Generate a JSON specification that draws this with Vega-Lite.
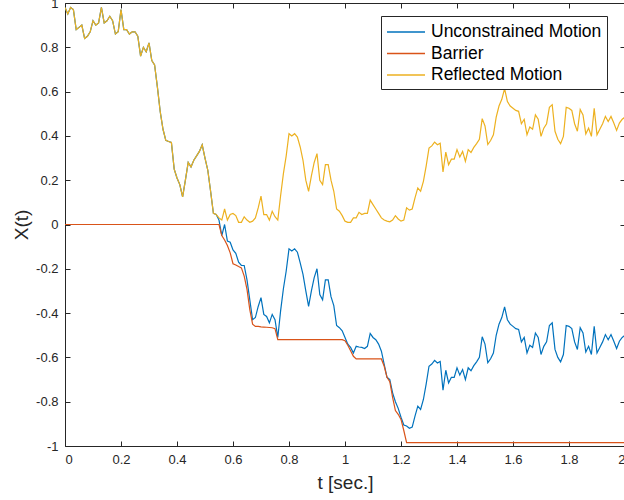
{
"$schema":"https://vega.github.io/schema/vega-lite/v6.json",
"width":560,"height":443,
"autosize":{"type":"none"},
"padding":{"left":65,"top":3,"right":0,"bottom":54},
"background":"white",
"data":{"values":[
{"t":0,"U":0.98,"B":0,"R":0.98},{"t":0.01,"U":0.95,"B":0,"R":0.95},{"t":0.02,"U":0.98,"B":0,"R":0.98},{"t":0.03,"U":0.97,"B":0,"R":0.97},{"t":0.04,"U":0.88,"B":0,"R":0.88},{"t":0.05,"U":0.89,"B":0,"R":0.89},{"t":0.06,"U":0.9,"B":0,"R":0.9},{"t":0.07,"U":0.84,"B":0,"R":0.84},{"t":0.08,"U":0.85,"B":0,"R":0.85},{"t":0.09,"U":0.87,"B":0,"R":0.87},
{"t":0.1,"U":0.92,"B":0,"R":0.92},{"t":0.11,"U":0.9,"B":0,"R":0.9},{"t":0.12,"U":0.91,"B":0,"R":0.91},{"t":0.13,"U":0.98,"B":0,"R":0.98},{"t":0.14,"U":0.91,"B":0,"R":0.91},{"t":0.15,"U":0.92,"B":0,"R":0.92},{"t":0.16,"U":0.94,"B":0,"R":0.94},{"t":0.17,"U":0.92,"B":0,"R":0.92},{"t":0.18,"U":0.86,"B":0,"R":0.86},{"t":0.19,"U":0.87,"B":0,"R":0.87},
{"t":0.2,"U":0.97,"B":0,"R":0.97},{"t":0.21,"U":0.88,"B":0,"R":0.88},{"t":0.22,"U":0.88,"B":0,"R":0.88},{"t":0.23,"U":0.86,"B":0,"R":0.86},{"t":0.24,"U":0.87,"B":0,"R":0.87},{"t":0.25,"U":0.87,"B":0,"R":0.87},{"t":0.26,"U":0.85,"B":0,"R":0.85},{"t":0.27,"U":0.76,"B":0,"R":0.76},{"t":0.28,"U":0.8,"B":0,"R":0.8},{"t":0.29,"U":0.78,"B":0,"R":0.78},
{"t":0.3,"U":0.82,"B":0,"R":0.82},{"t":0.31,"U":0.74,"B":0,"R":0.74},{"t":0.32,"U":0.72,"B":0,"R":0.72},{"t":0.33,"U":0.62,"B":0,"R":0.62},{"t":0.34,"U":0.51,"B":0,"R":0.51},{"t":0.35,"U":0.43,"B":0,"R":0.43},{"t":0.36,"U":0.38,"B":0,"R":0.38},{"t":0.37,"U":0.375,"B":0,"R":0.375},{"t":0.38,"U":0.37,"B":0,"R":0.37},{"t":0.39,"U":0.25,"B":0,"R":0.25},
{"t":0.4,"U":0.21,"B":0,"R":0.21},{"t":0.41,"U":0.18,"B":0,"R":0.18},{"t":0.42,"U":0.125,"B":0,"R":0.125},{"t":0.43,"U":0.2,"B":0,"R":0.2},{"t":0.44,"U":0.28,"B":0,"R":0.28},{"t":0.45,"U":0.26,"B":0,"R":0.26},{"t":0.46,"U":0.29,"B":0,"R":0.29},{"t":0.47,"U":0.31,"B":0,"R":0.31},{"t":0.48,"U":0.33,"B":0,"R":0.33},{"t":0.49,"U":0.36,"B":0,"R":0.36},
{"t":0.5,"U":0.3,"B":0,"R":0.3},{"t":0.51,"U":0.245,"B":0,"R":0.245},{"t":0.52,"U":0.15,"B":0,"R":0.15},{"t":0.53,"U":0.05,"B":0,"R":0.05},{"t":0.54,"U":0.045,"B":0,"R":0.045},{"t":0.55,"U":0.02,"B":0,"R":0.03},{"t":0.56,"U":-0.05,"B":-0.05,"R":0.02},{"t":0.57,"U":0,"B":-0.07,"R":0.07},{"t":0.58,"U":-0.075,"B":-0.095,"R":0.02},{"t":0.59,"U":-0.08,"B":-0.128,"R":0.045},
{"t":0.6,"U":-0.115,"B":-0.177,"R":0.05},{"t":0.61,"U":-0.13,"B":-0.183,"R":0.04},{"t":0.62,"U":-0.17,"B":-0.19,"R":0.01},{"t":0.63,"U":-0.185,"B":-0.196,"R":0.01},{"t":0.64,"U":-0.185,"B":-0.233,"R":0.035},{"t":0.65,"U":-0.25,"B":-0.293,"R":0.02},{"t":0.66,"U":-0.34,"B":-0.384,"R":0.01},{"t":0.67,"U":-0.43,"B":-0.45,"R":0.015},{"t":0.68,"U":-0.42,"B":-0.46,"R":0.03},{"t":0.69,"U":-0.37,"B":-0.46,"R":0.075},
{"t":0.7,"U":-0.33,"B":-0.462,"R":0.128},{"t":0.71,"U":-0.406,"B":-0.463,"R":0.045},{"t":0.72,"U":-0.415,"B":-0.464,"R":0.045},{"t":0.73,"U":-0.444,"B":-0.465,"R":0.02},{"t":0.74,"U":-0.406,"B":-0.466,"R":0.06},{"t":0.75,"U":-0.43,"B":-0.47,"R":0.035},{"t":0.76,"U":-0.51,"B":-0.52,"R":0.02},{"t":0.77,"U":-0.39,"B":-0.52,"R":0.13},{"t":0.78,"U":-0.29,"B":-0.52,"R":0.23},{"t":0.79,"U":-0.21,"B":-0.52,"R":0.31},
{"t":0.8,"U":-0.11,"B":-0.52,"R":0.41},{"t":0.81,"U":-0.12,"B":-0.52,"R":0.4},{"t":0.82,"U":-0.11,"B":-0.52,"R":0.41},{"t":0.83,"U":-0.125,"B":-0.52,"R":0.395},{"t":0.84,"U":-0.173,"B":-0.52,"R":0.35},{"t":0.85,"U":-0.225,"B":-0.52,"R":0.29},{"t":0.86,"U":-0.3,"B":-0.52,"R":0.2},{"t":0.87,"U":-0.37,"B":-0.52,"R":0.15},{"t":0.88,"U":-0.3,"B":-0.52,"R":0.22},{"t":0.89,"U":-0.24,"B":-0.52,"R":0.28},
{"t":0.9,"U":-0.2,"B":-0.52,"R":0.32},{"t":0.91,"U":-0.316,"B":-0.52,"R":0.2},{"t":0.92,"U":-0.34,"B":-0.52,"R":0.18},{"t":0.93,"U":-0.25,"B":-0.52,"R":0.27},{"t":0.94,"U":-0.25,"B":-0.52,"R":0.27},{"t":0.95,"U":-0.326,"B":-0.52,"R":0.2},{"t":0.96,"U":-0.366,"B":-0.52,"R":0.15},{"t":0.97,"U":-0.456,"B":-0.52,"R":0.07},{"t":0.98,"U":-0.466,"B":-0.52,"R":0.06},{"t":0.99,"U":-0.48,"B":-0.52,"R":0.04},
{"t":1,"U":-0.51,"B":-0.525,"R":0.015},{"t":1.01,"U":-0.54,"B":-0.545,"R":0.01},{"t":1.02,"U":-0.555,"B":-0.57,"R":0.01},{"t":1.03,"U":-0.58,"B":-0.595,"R":0.03},{"t":1.04,"U":-0.55,"B":-0.607,"R":0.03},{"t":1.05,"U":-0.553,"B":-0.607,"R":0.055},{"t":1.06,"U":-0.555,"B":-0.607,"R":0.045},{"t":1.07,"U":-0.56,"B":-0.607,"R":0.05},{"t":1.08,"U":-0.55,"B":-0.607,"R":0.05},{"t":1.09,"U":-0.492,"B":-0.607,"R":0.11},
{"t":1.1,"U":-0.51,"B":-0.607,"R":0.09},{"t":1.11,"U":-0.52,"B":-0.607,"R":0.07},{"t":1.12,"U":-0.54,"B":-0.607,"R":0.05},{"t":1.13,"U":-0.572,"B":-0.607,"R":0.03},{"t":1.14,"U":-0.632,"B":-0.64,"R":0.02},{"t":1.15,"U":-0.69,"B":-0.69,"R":0.015},{"t":1.16,"U":-0.7,"B":-0.71,"R":0.012},{"t":1.17,"U":-0.76,"B":-0.78,"R":0.02},{"t":1.18,"U":-0.8,"B":-0.84,"R":0.04},{"t":1.19,"U":-0.83,"B":-0.857,"R":0.025},
{"t":1.2,"U":-0.87,"B":-0.88,"R":0.015},{"t":1.21,"U":-0.905,"B":-0.93,"R":0.02},{"t":1.22,"U":-0.91,"B":-0.985,"R":0.075},{"t":1.23,"U":-0.92,"B":-0.985,"R":0.065},{"t":1.24,"U":-0.915,"B":-0.985,"R":0.07},{"t":1.25,"U":-0.865,"B":-0.985,"R":0.12},{"t":1.26,"U":-0.82,"B":-0.985,"R":0.165},{"t":1.27,"U":-0.835,"B":-0.985,"R":0.15},{"t":1.28,"U":-0.79,"B":-0.985,"R":0.195},{"t":1.29,"U":-0.72,"B":-0.985,"R":0.265},
{"t":1.3,"U":-0.64,"B":-0.985,"R":0.345},{"t":1.31,"U":-0.63,"B":-0.985,"R":0.355},{"t":1.32,"U":-0.613,"B":-0.985,"R":0.372},{"t":1.33,"U":-0.625,"B":-0.985,"R":0.36},{"t":1.34,"U":-0.618,"B":-0.985,"R":0.367},{"t":1.35,"U":-0.748,"B":-0.985,"R":0.237},{"t":1.36,"U":-0.658,"B":-0.985,"R":0.327},{"t":1.37,"U":-0.715,"B":-0.985,"R":0.27},{"t":1.38,"U":-0.69,"B":-0.985,"R":0.295},{"t":1.39,"U":-0.69,"B":-0.985,"R":0.295},
{"t":1.4,"U":-0.647,"B":-0.985,"R":0.338},{"t":1.41,"U":-0.68,"B":-0.985,"R":0.305},{"t":1.42,"U":-0.655,"B":-0.985,"R":0.33},{"t":1.43,"U":-0.7,"B":-0.985,"R":0.285},{"t":1.44,"U":-0.647,"B":-0.985,"R":0.338},{"t":1.45,"U":-0.66,"B":-0.985,"R":0.325},{"t":1.46,"U":-0.637,"B":-0.985,"R":0.348},{"t":1.47,"U":-0.62,"B":-0.985,"R":0.365},{"t":1.48,"U":-0.6,"B":-0.985,"R":0.385},{"t":1.49,"U":-0.507,"B":-0.985,"R":0.478},
{"t":1.5,"U":-0.54,"B":-0.985,"R":0.445},{"t":1.51,"U":-0.624,"B":-0.985,"R":0.361},{"t":1.52,"U":-0.606,"B":-0.985,"R":0.379},{"t":1.53,"U":-0.58,"B":-0.985,"R":0.405},{"t":1.54,"U":-0.5,"B":-0.985,"R":0.485},{"t":1.55,"U":-0.45,"B":-0.985,"R":0.535},{"t":1.56,"U":-0.42,"B":-0.985,"R":0.565},{"t":1.57,"U":-0.372,"B":-0.985,"R":0.613},{"t":1.58,"U":-0.43,"B":-0.985,"R":0.555},{"t":1.59,"U":-0.45,"B":-0.985,"R":0.535},
{"t":1.6,"U":-0.46,"B":-0.985,"R":0.525},{"t":1.61,"U":-0.47,"B":-0.985,"R":0.515},{"t":1.62,"U":-0.474,"B":-0.985,"R":0.511},{"t":1.63,"U":-0.53,"B":-0.985,"R":0.455},{"t":1.64,"U":-0.51,"B":-0.985,"R":0.475},{"t":1.65,"U":-0.58,"B":-0.985,"R":0.405},{"t":1.66,"U":-0.545,"B":-0.985,"R":0.44},{"t":1.67,"U":-0.555,"B":-0.985,"R":0.43},{"t":1.68,"U":-0.49,"B":-0.985,"R":0.495},{"t":1.69,"U":-0.51,"B":-0.985,"R":0.475},
{"t":1.7,"U":-0.587,"B":-0.985,"R":0.398},{"t":1.71,"U":-0.55,"B":-0.985,"R":0.435},{"t":1.72,"U":-0.53,"B":-0.985,"R":0.455},{"t":1.73,"U":-0.456,"B":-0.985,"R":0.529},{"t":1.74,"U":-0.444,"B":-0.985,"R":0.541},{"t":1.75,"U":-0.564,"B":-0.985,"R":0.421},{"t":1.76,"U":-0.6,"B":-0.985,"R":0.385},{"t":1.77,"U":-0.62,"B":-0.985,"R":0.365},{"t":1.78,"U":-0.587,"B":-0.985,"R":0.398},{"t":1.79,"U":-0.456,"B":-0.985,"R":0.529},
{"t":1.8,"U":-0.46,"B":-0.985,"R":0.525},{"t":1.81,"U":-0.47,"B":-0.985,"R":0.515},{"t":1.82,"U":-0.53,"B":-0.985,"R":0.455},{"t":1.83,"U":-0.564,"B":-0.985,"R":0.421},{"t":1.84,"U":-0.466,"B":-0.985,"R":0.519},{"t":1.85,"U":-0.49,"B":-0.985,"R":0.495},{"t":1.86,"U":-0.576,"B":-0.985,"R":0.409},{"t":1.87,"U":-0.55,"B":-0.985,"R":0.435},{"t":1.88,"U":-0.587,"B":-0.985,"R":0.398},{"t":1.89,"U":-0.46,"B":-0.985,"R":0.525},
{"t":1.9,"U":-0.58,"B":-0.985,"R":0.405},{"t":1.91,"U":-0.555,"B":-0.985,"R":0.43},{"t":1.92,"U":-0.53,"B":-0.985,"R":0.455},{"t":1.93,"U":-0.497,"B":-0.985,"R":0.488},{"t":1.94,"U":-0.52,"B":-0.985,"R":0.465},{"t":1.95,"U":-0.497,"B":-0.985,"R":0.488},{"t":1.96,"U":-0.527,"B":-0.985,"R":0.458},{"t":1.97,"U":-0.56,"B":-0.985,"R":0.425},{"t":1.98,"U":-0.527,"B":-0.985,"R":0.458},{"t":1.99,"U":-0.51,"B":-0.985,"R":0.475},
{"t":2,"U":-0.5,"B":-0.985,"R":0.485}
]},
"transform":[{"fold":["U","B","R"],"as":["series","value"]}],
"layer":[
{"mark":{"type":"line","strokeWidth":1.2,"clip":true},
 "encoding":{
  "x":{"field":"t","type":"quantitative","scale":{"domain":[0,2],"nice":false,"zero":false},
       "axis":{"orient":"bottom","values":[0,0.2,0.4,0.6,0.8,1,1.2,1.4,1.6,1.8,2],"labelExpr":"datum.value + ''","title":"t [sec.]","titlePadding":7}},
  "y":{"field":"value","type":"quantitative","scale":{"domain":[-1,1],"nice":false},
       "axis":{"orient":"left","values":[-1,-0.8,-0.6,-0.4,-0.2,0,0.2,0.4,0.6,0.8,1],"labelExpr":"datum.value + ''","title":"X(t)","titlePadding":4}},
  "color":{"field":"series","type":"nominal",
       "scale":{"domain":["U","B","R"],"range":["#0072BD","#D95319","#EDB120"]},
       "legend":{"orient":"none","legendX":316,"legendY":13,"title":null,"labelLimit":400,
         "labelExpr":"datum.label == 'U' ? 'Unconstrained Motion' : datum.label == 'B' ? 'Barrier' : 'Reflected Motion'"}}
 }},
{"mark":{"type":"line","opacity":0},
 "encoding":{
  "x":{"field":"t","type":"quantitative","axis":{"orient":"top","values":[0,0.2,0.4,0.6,0.8,1,1.2,1.4,1.6,1.8,2],"labels":false,"title":null}},
  "y":{"field":"value","type":"quantitative","axis":{"orient":"right","values":[-1,-0.8,-0.6,-0.4,-0.2,0,0.2,0.4,0.6,0.8,1],"labels":false,"title":null}}
 }}
],
"resolve":{"axis":{"x":"independent","y":"independent"}},
"config":{
 "view":{"stroke":null},
 "font":"Liberation Sans",
 "axis":{"grid":false,"domainColor":"#262626","domainWidth":1,"tickColor":"#262626","tickSize":-5,"tickWidth":1,
   "labelFont":"Liberation Sans","labelFontSize":13,"labelColor":"#262626","labelPadding":12,
   "titleFont":"Liberation Sans","titleFontSize":19,"titleFontWeight":"normal","titleColor":"#262626"},
 "legend":{"strokeColor":"#262626","fillColor":"white","padding":5,"labelFont":"Liberation Sans","labelFontSize":17.5,"labelColor":"#000000","labelLimit":400,
   "symbolType":"M-1,0H2.8","symbolSize":400,"symbolStrokeWidth":1.3,"rowPadding":1.5,"labelOffset":23,"cornerRadius":0}
}
}
